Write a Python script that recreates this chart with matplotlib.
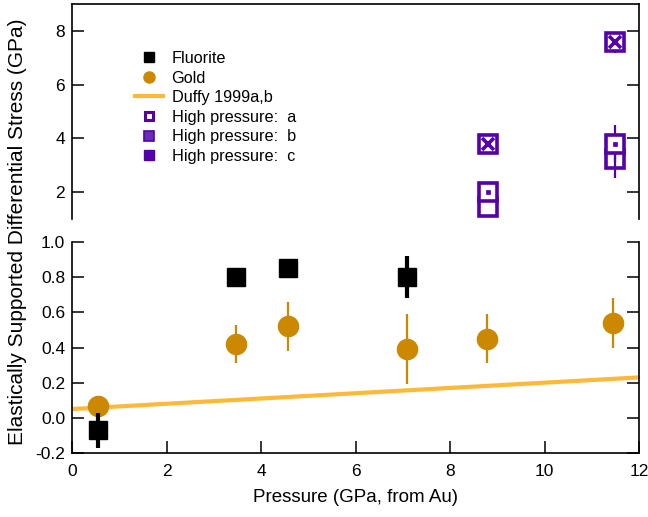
import matplotlib
matplotlib.use("Agg")
import matplotlib.pyplot as plt
from matplotlib.lines import Line2D

plt.rcParams['font.family'] = ['Liberation Sans', 'DejaVu Sans']
plt.rcParams['axes.unicode_minus'] = False

# ---- data ----
fluor_x = [0.55, 3.48, 4.57, 7.08]
fluor_y = [-0.07, 0.80, 0.85, 0.80]
fluor_err = [0.10, 0.0, 0.0, 0.12]

gold_x = [0.55, 3.48, 4.57, 7.08, 8.78, 11.45]
gold_y = [0.07, 0.42, 0.52, 0.39, 0.45, 0.54]
gold_err = [0.0, 0.11, 0.14, 0.20, 0.14, 0.14]

duffy_x = [0, 12]
duffy_y = [0.05, 0.23]

hp_x = [8.8, 11.5]
hp_a_y = [2.02, 3.80]
hp_a_err = [0.0, 0.69]
hp_b_y = [3.79, 7.57]
hp_b_err = [0.0, 0.40]
hp_c_y = [1.45, 3.22]
hp_c_err = [0.0, 0.70]

xticks = [0, 2, 4, 6, 8, 10, 12]
yticks_bot = [-0.2, 0.0, 0.2, 0.4, 0.6, 0.8, 1.0]
yticks_top = [2, 4, 6, 8]

BLACK = 'black'
GOLD = '#cc8800'
DUFFY = '#ffb93a'
PURPLE = '#5500aa'

fig = plt.figure(figsize=(6.48, 5.17), dpi=100)
L, R = 72 / 648, 639 / 648
ax_top = fig.add_axes([L, 1 - 219 / 517, R - L, (219 - 4) / 517])
ax_bot = fig.add_axes([L, 1 - 453 / 517, R - L, (453 - 242) / 517])

FS_TICK = 12.5
FS_LEG = 11.7
for ax in (ax_top, ax_bot):
    ax.set_xlim(0, 12)
    ax.tick_params(direction='in', length=8.5, width=1.1, labelsize=FS_TICK, pad=5)
    for s in ax.spines.values():
        s.set_linewidth(1.2)

# bottom panel
ax_bot.set_ylim(-0.2, 1.0)
ax_bot.spines['top'].set_visible(False)
ax_bot.set_xticks(xticks)
ax_bot.set_xticklabels([str(v) for v in xticks])
ax_bot.set_yticks(yticks_bot)
ax_bot.set_yticklabels(['%.1f' % v for v in yticks_bot])
ax_bot.tick_params(axis='y', right=True, labelright=False)
ax_bot.tick_params(axis='x', top=False, pad=8)

ax_bot.plot(duffy_x, duffy_y, color=DUFFY, lw=3, solid_capstyle='butt', zorder=2, clip_on=False)
ax_bot.errorbar(gold_x, gold_y, yerr=gold_err, fmt='o', color=GOLD, ms=14.5,
                elinewidth=1.6, capsize=0, zorder=3, clip_on=False)
ax_bot.errorbar(fluor_x, fluor_y, yerr=fluor_err, fmt='s', color=BLACK, ms=13,
                elinewidth=3, capsize=0, zorder=4, clip_on=False)
ax_bot.set_xlabel('Pressure (GPa, from Au)', fontsize=13.5, labelpad=7)

# top panel
ax_top.set_ylim(1, 9)
ax_top.spines['bottom'].set_visible(False)
ax_top.set_xticks([])
ax_top.set_yticks(yticks_top)
ax_top.set_yticklabels([str(v) for v in yticks_top])
ax_top.tick_params(axis='y', right=True, labelright=False)

MS = 13
MEW = 2.6
# error bars first
ax_top.errorbar(hp_x, hp_a_y, yerr=hp_a_err, fmt='none', ecolor=PURPLE, elinewidth=1.6, capsize=0, zorder=2)
ax_top.errorbar(hp_x, hp_b_y, yerr=hp_b_err, fmt='none', ecolor=PURPLE, elinewidth=1.6, capsize=0, zorder=2)
ax_top.errorbar(hp_x, hp_c_y, yerr=hp_c_err, fmt='none', ecolor=PURPLE, elinewidth=1.6, capsize=0, zorder=2)
# c: empty box (transparent)
ax_top.plot(hp_x, hp_c_y, 's', ms=MS, mfc='none', mec=PURPLE, mew=MEW, ls='none', zorder=3)
# a: box with dot
ax_top.plot(hp_x, hp_a_y, 's', ms=MS, mfc='white', mec=PURPLE, mew=MEW, ls='none', zorder=4)
ax_top.plot(hp_x, hp_a_y, 's', ms=2.5, mfc=PURPLE, mec=PURPLE, mew=0.5, ls='none', zorder=5)
# b: box with X
ax_top.plot(hp_x, hp_b_y, 's', ms=MS, mfc='white', mec=PURPLE, mew=MEW, ls='none', zorder=4)
ax_top.plot(hp_x, hp_b_y, 'x', ms=8.5, mec=PURPLE, mew=2.6, ls='none', zorder=5)

handles = [
    Line2D([], [], marker='s', color=BLACK, ls='none', ms=7),
    Line2D([], [], marker='o', color=GOLD, ls='none', ms=8),
    Line2D([], [], color=DUFFY, lw=3),
    Line2D([], [], marker='s', ls='none', ms=6, mfc='white', mec=PURPLE, mew=2.2),
    Line2D([], [], marker='s', ls='none', ms=6.5, mfc='#6a2cb8', mec=PURPLE, mew=1.2),
    Line2D([], [], marker='s', ls='none', ms=6.5, mfc=PURPLE, mec=PURPLE),
]
labels = ['Fluorite', 'Gold', 'Duffy 1999a,b', 'High pressure:  a',
          'High pressure:  b', 'High pressure:  c']
ax_top.legend(handles, labels, loc='upper left', bbox_to_anchor=((135 - 72) / 567, (219 - 51) / 215),
              frameon=False, fontsize=FS_LEG, handlelength=1.75, handletextpad=0.5,
              labelspacing=0.28, borderpad=0, borderaxespad=0)

fig.text(18 / 648, 1 - 232 / 517, 'Elastically Supported Differential Stress (GPa)',
         rotation=90, ha='center', va='center', fontsize=15)

fig.savefig('out.png', dpi=100)
